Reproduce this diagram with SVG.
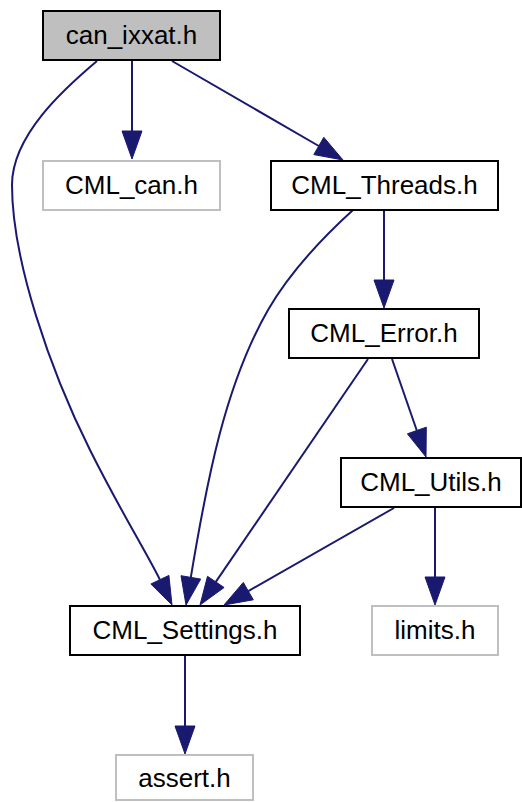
<svg xmlns="http://www.w3.org/2000/svg" width="522" height="802" viewBox="0 0 522 802">
<style>
.n rect{fill:#ffffff;stroke:#000000;stroke-width:2}
.n.g rect{stroke:#bfbfbf}
.n.root rect{fill:#bfbfbf}
.n text{font-family:"Liberation Sans",Arial,Helvetica,sans-serif;font-size:26px;fill:#000000;text-anchor:middle}
.e path{fill:none;stroke:#191970;stroke-width:2}
.e polygon{fill:#191970;stroke:#191970;stroke-width:1}
</style>
<rect x="0" y="0" width="522" height="802" fill="#ffffff"/>
<g id="edges" class="e">
<path d="M132,61 L132,131"/>
<polygon points="122,131 142,131 132,159"/>
<path d="M172,61 L318.8,146"/>
<polygon points="313.8,154.6 323.8,137.3 343,160"/>
<path d="M97,61 C65,88 12,135 12,185 C12,260 50,370 90,450 C120,510 145,550 159.9,579.7"/>
<polygon points="150.9,584 168.9,575.4 172,605"/>
<path d="M353,210 C320,240 290,272 268,310 C225,385 207,480 190.8,577.4"/>
<polygon points="181,575.7 200.7,579.1 186,605"/>
<path d="M384,210 L384,280"/>
<polygon points="374,280 394,280 384,308"/>
<path d="M368,359 L215.8,581.9"/>
<polygon points="224.1,587.5 207.5,576.3 200,605"/>
<path d="M392,359 L416.8,430.5"/>
<polygon points="407.4,433.8 426.3,427.2 426,457"/>
<path d="M394,508 L248.3,591.1"/>
<polygon points="253.3,599.8 243.3,582.4 224,605"/>
<path d="M435,508 L435,577"/>
<polygon points="425,577 445,577 435,605"/>
<path d="M185,656 L185,726"/>
<polygon points="175,726 195,726 185,754"/>
</g>
<g id="can_ixxat" class="n root"><rect x="43" y="11" width="177" height="49"/><text x="131.5" y="43.5">can_ixxat.h</text></g>
<g id="CML_can" class="n g"><rect x="43" y="161" width="177" height="49"/><text x="131.5" y="193.5">CML_can.h</text></g>
<g id="CML_Threads" class="n"><rect x="271" y="161" width="227" height="49"/><text x="384.5" y="193.5">CML_Threads.h</text></g>
<g id="CML_Error" class="n"><rect x="289" y="309" width="190" height="49"/><text x="384" y="341.5">CML_Error.h</text></g>
<g id="CML_Utils" class="n"><rect x="341" y="458" width="180" height="49"/><text x="431" y="490.5">CML_Utils.h</text></g>
<g id="CML_Settings" class="n"><rect x="70" y="606" width="230" height="49"/><text x="185" y="638.5">CML_Settings.h</text></g>
<g id="limits" class="n g"><rect x="372" y="606" width="126" height="49"/><text x="435" y="638.5">limits.h</text></g>
<g id="assert" class="n g"><rect x="116" y="755" width="137" height="45"/><text x="184.5" y="787">assert.h</text></g>
</svg>
